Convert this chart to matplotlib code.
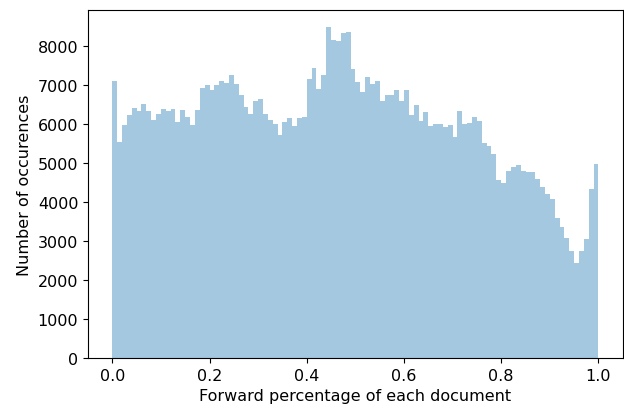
import numpy as np
import matplotlib
matplotlib.use("Agg")
import matplotlib.pyplot as plt

# Histogram counts for 100 equal bins on [0, 1]
counts = [
    7100, 5540, 5975, 6240, 6415, 6340, 6510, 6330, 6095, 6265,
    6385, 6325, 6400, 6050, 6360, 6180, 5980, 6360, 6915, 7015,
    6870, 7010, 7100, 7050, 7250, 7040, 6745, 6435, 6255, 6590,
    6640, 6255, 6095, 6015, 5725, 6060, 6145, 5965, 6145, 6195,
    7160, 7445, 6905, 7265, 8500, 8170, 8120, 8345, 8350, 7410,
    7070, 6820, 7205, 7035, 7100, 6590, 6760, 6735, 6870, 6600,
    6870, 6245, 6485, 6070, 6315, 5955, 6015, 6015, 5930, 5975,
    5675, 6330, 6000, 6025, 6195, 6075, 5520, 5445, 5245, 4560,
    4495, 4810, 4890, 4940, 4795, 4785, 4770, 4590, 4385, 4205,
    4075, 3605, 3360, 3085, 2760, 2450, 2745, 3065, 4335, 4980,
]
bin_edges = np.linspace(0.0, 1.0, len(counts) + 1)

fig = plt.figure(figsize=(6.24, 4.10), dpi=100)
ax = fig.add_axes([0.141, 0.124, 0.857, 0.849])
ax.hist(bin_edges[:-1], bins=bin_edges, weights=counts,
        color="#1f77b4", alpha=0.4, linewidth=0)

ax.set_xlabel("Forward percentage of each document", fontsize=11.5)
ax.set_ylabel("Number of occurences", fontsize=11.5)
ax.tick_params(labelsize=11.5)
ax.set_xticks([0.0, 0.2, 0.4, 0.6, 0.8, 1.0])
fig.savefig("out.png", dpi=100)
